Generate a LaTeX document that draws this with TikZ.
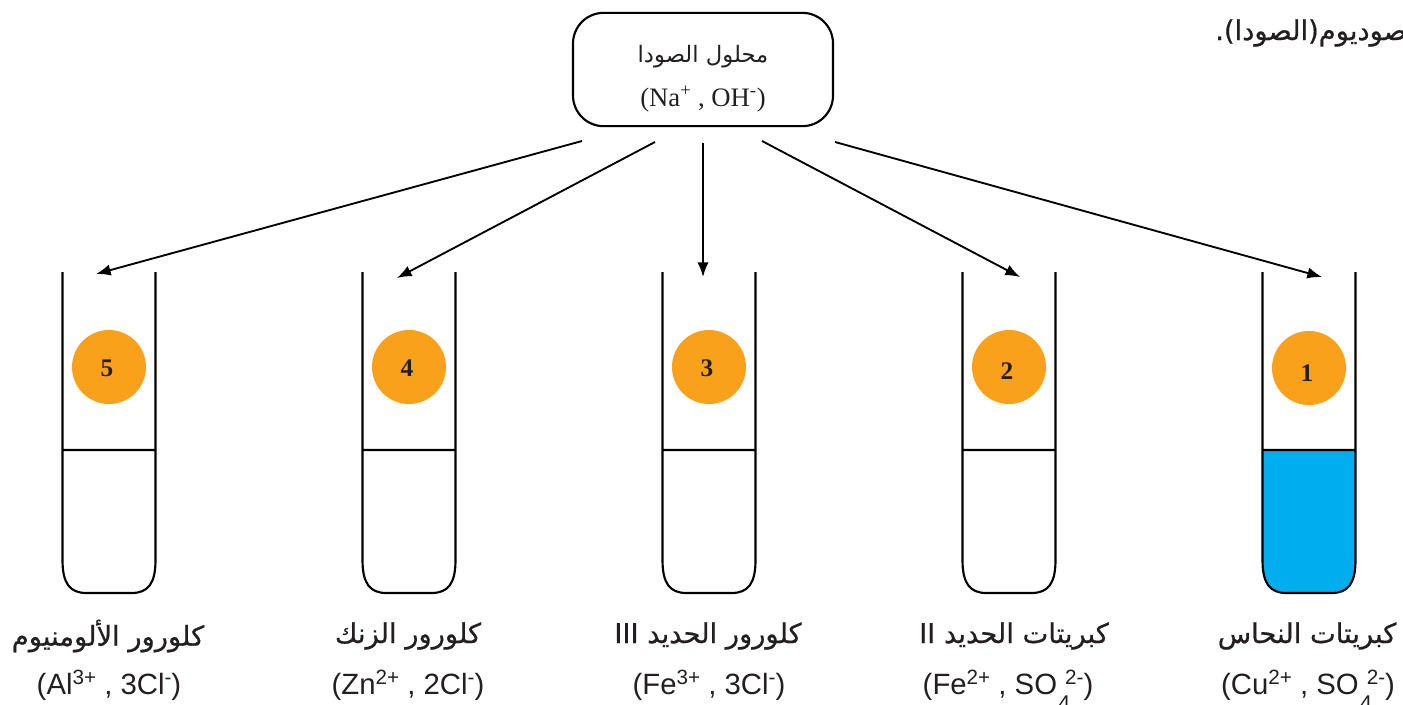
\documentclass[tikz,border=0pt]{standalone}
\usepackage{fontspec}
\setmainfont{Liberation Sans}
\newfontfamily\arabicfont[Script=Arabic]{DejaVu Sans}
\newfontfamily\arabicheavy[Script=Arabic,FakeBold=0.7]{DejaVu Sans}
\newfontfamily\seriffont{Liberation Serif}
\TeXXeTstate=1
\usetikzlibrary{positioning,arrows.meta}
\definecolor{ballorange}{HTML}{F9A11B}
\definecolor{liquidblue}{HTML}{00AEEF}
\definecolor{textgray}{HTML}{231F20}
\tikzset{
  tubeline/.style = {line width = 1.6pt, black},
  ball/.style = {circle, fill = ballorange, minimum size = 55.5pt, inner sep = 0pt, font = \seriffont\bfseries\fontsize{19}{19}\selectfont, text = textgray},
  saltname/.style = {font = \arabicheavy\fontsize{20.5}{24}\selectfont, text = textgray, inner sep = 0pt},
  saltion/.style = {anchor = base, font = \fontsize{22}{24}\selectfont, text = textgray, inner sep = 0pt},
  sodabox/.style = {draw, line width = 1.6pt, rounded corners = 23pt, minimum width = 195pt, minimum height = 85pt, align = center, inner sep = 0pt, text = textgray}
}
\newcommand{\tikzPlaceTube}[1]{\draw[tubeline] (#1,272) -- (#1,560) .. controls (#1,583) and (#1+7,593) .. (#1+24,593) -- (#1+69,593) .. controls (#1+86,593) and (#1+93,583) .. (#1+93,560) -- (#1+93,272) (#1,450) -- (#1+93,450)}
\newcommand{\arabicText}[1]{\beginR #1\endR}
\newcommand{\ballDigit}[2]{\hspace*{-3pt}\smash{\raisebox{#2}{#1}}}
\newcommand{\ionUp}[1]{\raisebox{7pt}{\fontsize{15.5}{15}\selectfont #1}}
\newcommand{\ionFour}{\rlap{\kern1pt\raisebox{-12.5pt}{\fontsize{16}{15}\selectfont 4}}\kern6pt}

\begin{document}
\begin{tikzpicture}[x = 0.75pt, y = -0.75pt]
  \useasboundingbox (0,0) rectangle (1403,704);

  % liquid of the first tube
  \fill[liquidblue] (1262.5,450) -- (1262.5,565) .. controls (1262.5,583) and (1269.5,592) .. (1286.5,592) -- (1331.5,592) .. controls (1348.5,592) and (1355.5,583) .. (1355.5,565) -- (1355.5,450) -- cycle;

  \foreach \x in {62.5,362.5,662.5,962.5,1262.5} {
    \tikzPlaceTube{\x};
  }

  \node[ball] (ball5) at (109,367) {\ballDigit{5}{-7.25pt}};
  \node[ball] (ball4) at (409,367) {\ballDigit{4}{-7.25pt}};
  \node[ball] (ball3) at (709,367) {\ballDigit{3}{-7.25pt}};
  \node[ball] (ball2) at (1009,367) {\ballDigit{2}{-9pt}};
  \node[ball] (ball1) at (1309,368) {\ballDigit{1}{-10pt}};

  \node[sodabox] (soda) at (703,69.5) {\rule{0pt}{27pt}{\arabicfont\fontsize{17}{20}\selectfont\arabicText{محلول الصودا}}\\[12pt]{\seriffont\fontsize{20}{22}\selectfont (Na\textsuperscript{+} , OH\textsuperscript{-})}};

  \node[saltname, anchor = west] (note) at (1215,33) {\arabicText{صوديوم(الصودا).}};

  % arrows leave the box with a small gap
  \coordinate (out5) at (582,141);
  \coordinate (out4) at (655,142);
  \coordinate (out3) at (703,143);
  \coordinate (out2) at (762,141);
  \coordinate (out1) at (835,142);
  \coordinate (in5) at (96,274);
  \coordinate (in4) at (397,278);
  \coordinate (in3) at (703,277);
  \coordinate (in2) at (1020,277);
  \coordinate (in1) at (1322,277);
  \foreach \n in {1,...,5} {
    \draw[-{Latex[length = 11pt, width = 8.5pt]}, line width = 1.4pt] (out\n) -- (in\n);
  }

  \node[saltname] (name5) at (108,636) {\arabicText{كلورور الألومنيوم}};
  \node[saltname] (name4) at (408,636) {\arabicText{كلورور الزنك}};
  \node[saltname] (name3) at (708,636) {\arabicText{كلورور الحديد \beginL III\endL}};
  \node[saltname] (name2) at (1014,636) {\arabicText{كبريتات الحديد \beginL II\endL}};
  \node[saltname] (name1) at (1307,636) {\arabicText{كبريتات النحاس}};

  \node[saltion] (ion5) at (109,694) {(Al\ionUp{3+} , 3Cl\ionUp{-})};
  \node[saltion] (ion4) at (408,694) {(Zn\ionUp{2+} , 2Cl\ionUp{-})};
  \node[saltion] (ion3) at (709,694) {(Fe\ionUp{3+} , 3Cl\ionUp{-})};
  \node[saltion] (ion2) at (1008,694) {(Fe\ionUp{2+} , SO\ionFour\ionUp{2-})};
  \node[saltion] (ion1) at (1308,694) {(Cu\ionUp{2+} , SO\ionFour\ionUp{2-})};
\end{tikzpicture}
\end{document}
